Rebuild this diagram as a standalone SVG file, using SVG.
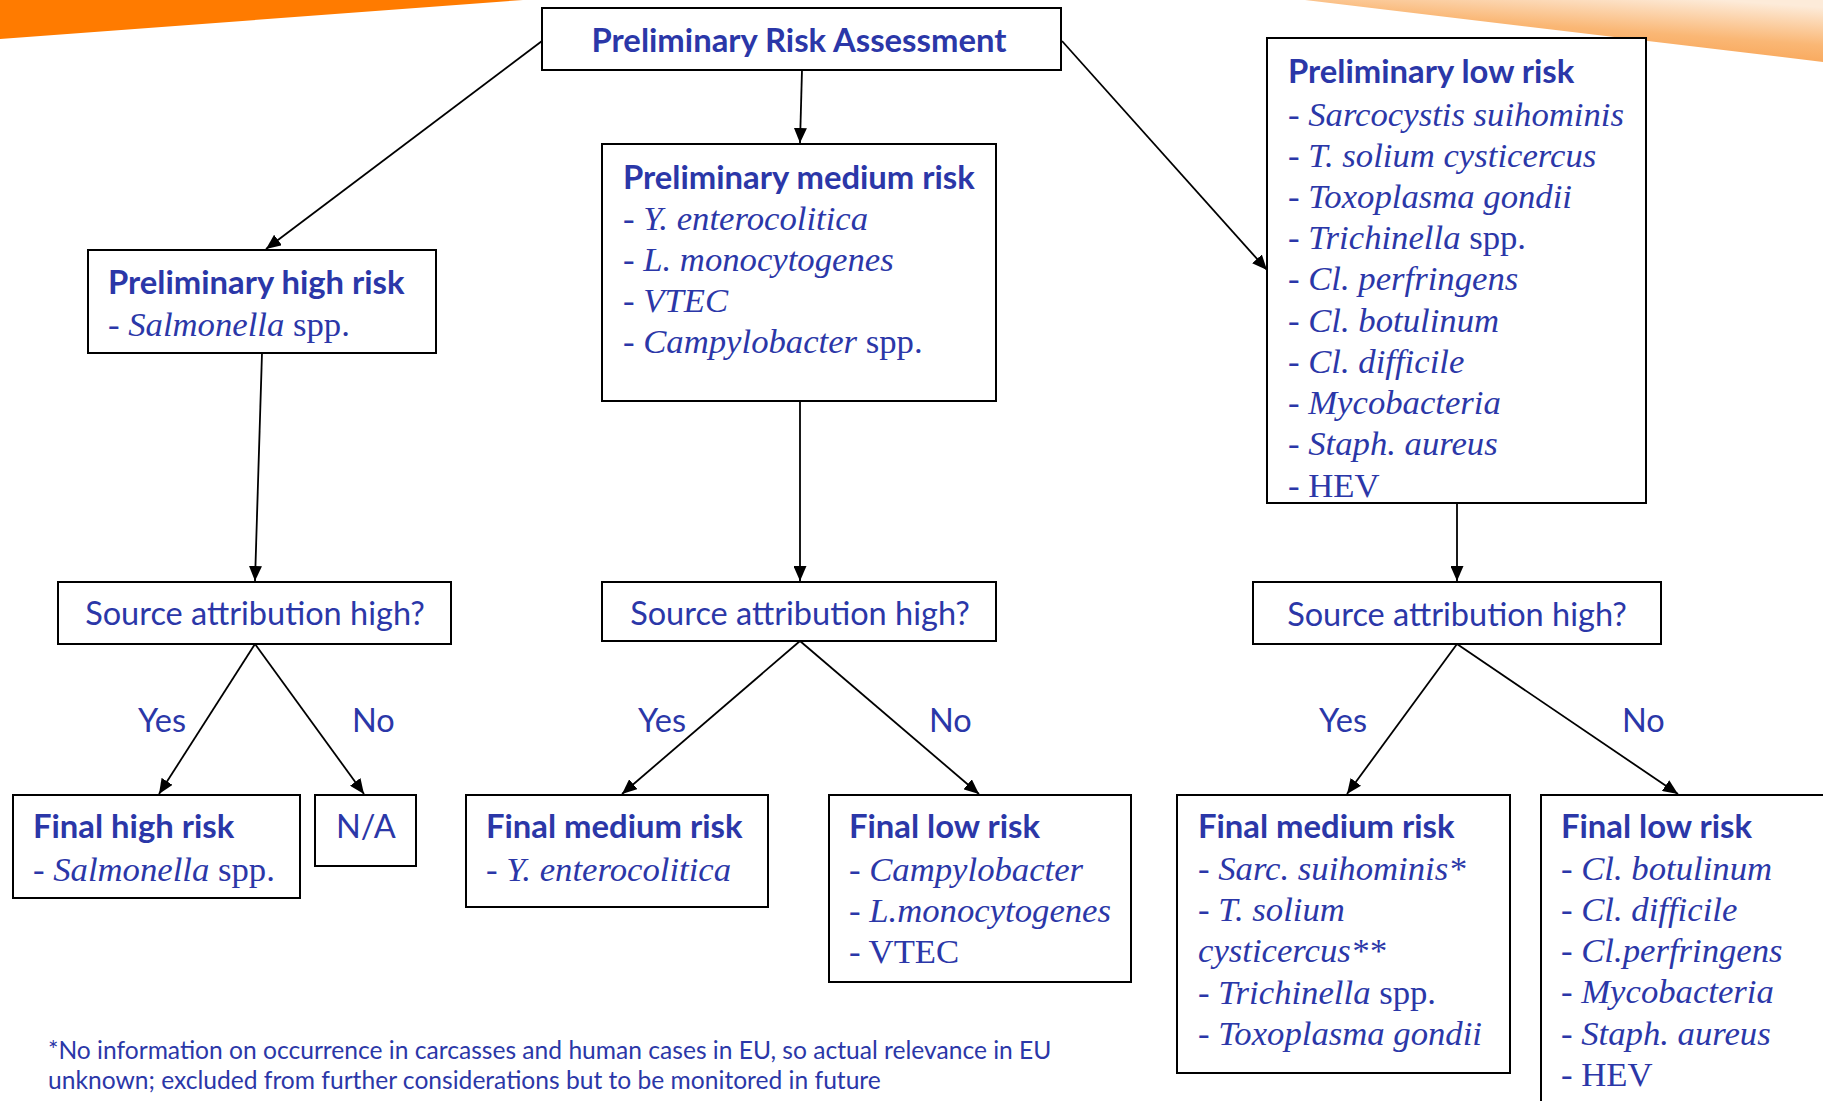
<svg xmlns="http://www.w3.org/2000/svg" width="1823" height="1101" viewBox="0 0 1823 1101">
<style>
.box{fill:#fff;stroke:#000;stroke-width:2}
.t{font-family:Lato,"Liberation Sans",sans-serif;font-weight:700;font-size:32.8px;fill:#2B37A8}
.s{font-family:"Liberation Serif",serif;font-size:34.7px;fill:#2B37A8}
.i{font-style:italic}
.q{font-family:Lato,"Liberation Sans",sans-serif;font-size:32.5px;fill:#2B37A8}
.f{font-family:Lato,"Liberation Sans",sans-serif;font-size:24.6px;fill:#2B37A8}
.c line{stroke:#000;stroke-width:1.8;marker-end:url(#ah)}
</style>
<defs>
<marker id="ah" viewBox="0 0 15 13" refX="15" refY="6.5" markerWidth="15" markerHeight="13" markerUnits="userSpaceOnUse" orient="auto"><path d="M0,0 L15,6.5 L0,13 z" fill="#000"/></marker>
<linearGradient id="og" x1="0.2" y1="1" x2="0.8" y2="0">
<stop offset="0" stop-color="#F7943A"/>
<stop offset="0.55" stop-color="#FAB775"/>
<stop offset="1" stop-color="#FDEBD9"/>
</linearGradient>
</defs>
<rect width="1823" height="1101" fill="#fff"/>
<polygon points="0,0 523,0 0,39" fill="#FF7B00"/>
<polygon points="1305,0 1823,0 1823,62" fill="url(#og)"/>

<g class="c" id="connectors">
<line x1="542" y1="41" x2="266" y2="249"/>
<line x1="802" y1="70" x2="800" y2="143"/>
<line x1="1062" y1="41" x2="1267" y2="270"/>
<line x1="262" y1="353" x2="255" y2="581"/>
<line x1="800" y1="401" x2="800" y2="581"/>
<line x1="1457" y1="503" x2="1457" y2="581"/>
<line x1="255" y1="644" x2="159" y2="794"/>
<line x1="255" y1="644" x2="364" y2="794"/>
<line x1="800" y1="641" x2="622" y2="794"/>
<line x1="800" y1="641" x2="979" y2="794"/>
<line x1="1457" y1="644" x2="1347" y2="794"/>
<line x1="1457" y1="644" x2="1678" y2="794"/>
</g>

<g id="labels">
<text class="q" x="138" y="732">Yes</text>
<text class="q" x="352" y="732">No</text>
<text class="q" x="638" y="732">Yes</text>
<text class="q" x="929" y="732">No</text>
<text class="q" x="1319" y="732">Yes</text>
<text class="q" x="1622" y="732">No</text>
</g>

<g id="n-top">
<rect class="box" x="542" y="8" width="519" height="62"/>
<text class="t" x="799" y="52" text-anchor="middle">Preliminary Risk Assessment</text>
</g>

<g id="n-prelim-high">
<rect class="box" x="88" y="250" width="348" height="103"/>
<text class="t" x="108" y="294">Preliminary high risk</text>
<text class="s" x="108" y="336"><tspan class="i">- Salmonella</tspan> spp.</text>
</g>

<g id="n-prelim-medium">
<rect class="box" x="602" y="144" width="394" height="257"/>
<text class="t" x="623" y="189">Preliminary medium risk</text>
<text class="s i" x="623" y="230">- Y. enterocolitica</text>
<text class="s i" x="623" y="271">- L. monocytogenes</text>
<text class="s i" x="623" y="312">- VTEC</text>
<text class="s" x="623" y="353"><tspan class="i">- Campylobacter</tspan> spp.</text>
</g>

<g id="n-prelim-low">
<rect class="box" x="1267" y="38" width="379" height="465"/>
<text class="t" x="1288" y="83">Preliminary low risk</text>
<text class="s i" x="1288" y="126">- Sarcocystis suihominis</text>
<text class="s i" x="1288" y="167">- T. solium cysticercus</text>
<text class="s i" x="1288" y="208">- Toxoplasma gondii</text>
<text class="s" x="1288" y="249"><tspan class="i">- Trichinella</tspan> spp.</text>
<text class="s i" x="1288" y="290">- Cl. perfringens</text>
<text class="s i" x="1288" y="332">- Cl. botulinum</text>
<text class="s i" x="1288" y="373">- Cl. difficile</text>
<text class="s i" x="1288" y="414">- Mycobacteria</text>
<text class="s i" x="1288" y="455">- Staph. aureus</text>
<text class="s" x="1288" y="497">- HEV</text>
</g>

<g id="n-source-1">
<rect class="box" x="58" y="582" width="393" height="62"/>
<text class="q" x="255" y="625" text-anchor="middle">Source attribution high?</text>
</g>
<g id="n-source-2">
<rect class="box" x="602" y="582" width="394" height="59"/>
<text class="q" x="800" y="625" text-anchor="middle">Source attribution high?</text>
</g>
<g id="n-source-3">
<rect class="box" x="1253" y="582" width="408" height="62"/>
<text class="q" x="1457" y="626" text-anchor="middle">Source attribution high?</text>
</g>

<g id="n-final-high">
<rect class="box" x="13" y="795" width="287" height="103"/>
<text class="t" x="33" y="838">Final high risk</text>
<text class="s" x="33" y="881"><tspan class="i">- Salmonella</tspan> spp.</text>
</g>

<g id="n-na">
<rect class="box" x="315" y="795" width="101" height="71"/>
<text class="q" x="336" y="838">N/A</text>
</g>

<g id="n-final-medium-1">
<rect class="box" x="466" y="795" width="302" height="112"/>
<text class="t" x="486" y="838">Final medium risk</text>
<text class="s i" x="486" y="881">- Y. enterocolitica</text>
</g>

<g id="n-final-low-1">
<rect class="box" x="829" y="795" width="302" height="187"/>
<text class="t" x="849" y="838">Final low risk</text>
<text class="s i" x="849" y="881">- Campylobacter</text>
<text class="s i" x="849" y="922">- L.monocytogenes</text>
<text class="s" x="849" y="963">- VTEC</text>
</g>

<g id="n-final-medium-2">
<rect class="box" x="1177" y="795" width="333" height="278"/>
<text class="t" x="1198" y="838">Final medium risk</text>
<text class="s i" x="1198" y="880">- Sarc. suihominis*</text>
<text class="s i" x="1198" y="921">- T. solium</text>
<text class="s i" x="1198" y="962">cysticercus**</text>
<text class="s" x="1198" y="1004"><tspan class="i">- Trichinella</tspan> spp.</text>
<text class="s i" x="1198" y="1045">- Toxoplasma gondii</text>
</g>

<g id="n-final-low-2">
<rect class="box" x="1541" y="795" width="300" height="320"/>
<text class="t" x="1561" y="838">Final low risk</text>
<text class="s i" x="1561" y="880">- Cl. botulinum</text>
<text class="s i" x="1561" y="921">- Cl. difficile</text>
<text class="s i" x="1561" y="962">- Cl.perfringens</text>
<text class="s i" x="1561" y="1003">- Mycobacteria</text>
<text class="s i" x="1561" y="1045">- Staph. aureus</text>
<text class="s" x="1561" y="1086">- HEV</text>
</g>

<g id="footnote">
<text class="f" x="48" y="1059">*No information on occurrence in carcasses and human cases in EU, so actual relevance in EU</text>
<text class="f" x="48" y="1089">unknown; excluded from further considerations but to be monitored in future</text>
</g>
</svg>
